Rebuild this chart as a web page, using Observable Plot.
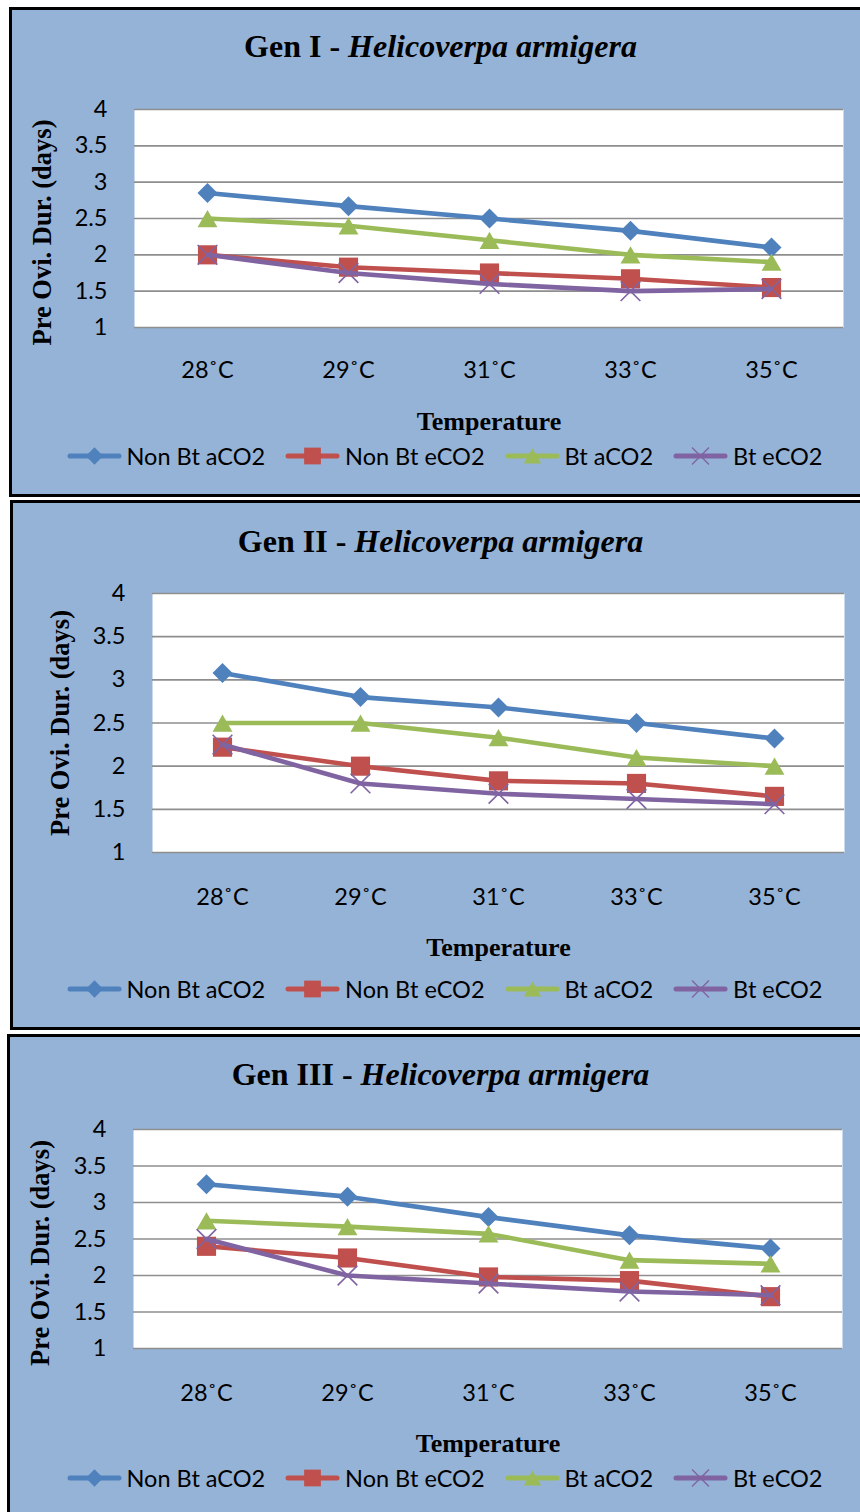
<!DOCTYPE html>
<html>
<head>
<meta charset="utf-8">
<script src="https://cdn.jsdelivr.net/npm/d3@7"></script>
<script src="https://cdn.jsdelivr.net/npm/@observablehq/plot@0.6"></script>
<style>
  html, body { margin: 0; padding: 0; background: #fff; overflow: hidden; }
  #page { position: relative; width: 860px; height: 1512px; overflow: hidden; }
  .box { position: absolute; box-sizing: border-box; border: 3px solid #000; background: #95B3D7; width: 900px; }
  .chart { position: absolute; left: 0; }
  .title { position: absolute; left: 0; width: 881px; text-align: center; white-space: nowrap;
           font-family: "Liberation Serif", "Times New Roman", serif; font-weight: bold; font-size: 32px;
           line-height: 32px; height: 32px; color: #000; }
  .title i { font-style: italic; }
  .legend { position: absolute; left: 0; width: 889px; height: 30px; display: flex; justify-content: center;
            align-items: center; font-family: Lato, sans-serif; font-size: 23.5px; color: #000; white-space: nowrap; }
  .legend .item { display: flex; align-items: center; margin: 0 10px; }
  .legend svg { display: block; margin-right: 5px; }
</style>
</head>
<body>
<div id="page"></div>
<script>
// Temperatures on the x axis and the four treatment series
const temperatures = ["28˚C", "29˚C", "31˚C", "33˚C", "35˚C"];
const seriesNames = ["Non Bt aCO2", "Non Bt eCO2", "Bt aCO2", "Bt eCO2"];
const seriesColors = ["#4F81BD", "#C0504D", "#9BBB59", "#8064A2"];
const yTicks = [1, 1.5, 2, 2.5, 3, 3.5, 4];
const genLabels = ["Gen I", "Gen II", "Gen III"];
const speciesName = "Helicoverpa armigera";
const xTitle = "Temperature";
const yTitle = "Pre Ovi. Dur. (days)";

// Pre-oviposition duration (days), generation I
const gen1NonBtA = [2.85, 2.67, 2.5, 2.33, 2.1];
const gen1NonBtE = [2.0, 1.83, 1.75, 1.67, 1.55];
const gen1BtA = [2.5, 2.4, 2.2, 2.0, 1.9];
const gen1BtE = [2.0, 1.75, 1.6, 1.5, 1.53];

// generation II
const gen2NonBtA = [3.08, 2.8, 2.68, 2.5, 2.32];
const gen2NonBtE = [2.22, 2.0, 1.83, 1.8, 1.65];
const gen2BtA = [2.5, 2.5, 2.33, 2.1, 2.0];
const gen2BtE = [2.25, 1.8, 1.68, 1.62, 1.56];

// generation III
const gen3NonBtA = [3.25, 3.08, 2.8, 2.55, 2.37];
const gen3NonBtE = [2.4, 2.24, 1.98, 1.93, 1.71];
const gen3BtA = [2.75, 2.67, 2.57, 2.21, 2.16];
const gen3BtE = [2.5, 2.0, 1.89, 1.78, 1.73];

const generations = [
  [gen1NonBtA, gen1NonBtE, gen1BtA, gen1BtE],
  [gen2NonBtA, gen2NonBtE, gen2BtA, gen2BtE],
  [gen3NonBtA, gen3NonBtE, gen3BtA, gen3BtE]
];

// Marker styling per series (diamond, square, triangle, cross)
const markers = [
  {symbol: "diamond2", r: 9, d3sym: d3.symbolDiamond2, legendSize: 190, dy: 0, stroked: false},
  {symbol: "square", r: 10.8, d3sym: d3.symbolSquare, legendSize: 280, dy: 0, stroked: false},
  {symbol: "triangle", r: 7.4, d3sym: d3.symbolTriangle, legendSize: 130, dy: 2.9, stroked: false},
  {symbol: "times", r: 9, d3sym: d3.symbolTimes, legendSize: 190, dy: 0, stroked: true}
];

// Panel layout on the page
const layout = [
  {top: 7, bottom: 497, left: 9, x0: 134, x1: 843, y0: 109, y1: 327, titleY: 46, tickDy: 42, xTitleDy: 94, yTitleX: 42, yTitleDy: 14, legendY: 456},
  {top: 500, bottom: 1030, left: 10, x0: 152, x1: 844, y0: 593, y1: 852, titleY: 541, tickDy: 44, xTitleDy: 95, yTitleX: 60, yTitleDy: 0, legendY: 989},
  {top: 1034, bottom: 1540, left: 7, x0: 133, x1: 842, y0: 1129, y1: 1348, titleY: 1074, tickDy: 44, xTitleDy: 95, yTitleX: 40, yTitleDy: 14, legendY: 1478}
];

const page = document.getElementById("page");
const W = 860;
const tickFont = 23.5;

function drawPanel(g) {
  const L = layout[g];
  const box = document.createElement("div");
  box.className = "box";
  box.style.left = L.left + "px";
  box.style.top = L.top + "px";
  box.style.height = (L.bottom - L.top) + "px";
  page.appendChild(box);

  const rows = [];
  generations[g].forEach((vals, si) =>
    vals.forEach((v, ti) => rows.push({series: seriesNames[si], temp: temperatures[ti], value: v})));

  const svgH = Math.min(L.bottom, 1512) - L.top;
  const marks = [
    Plot.frame({fill: "white", stroke: null}),
    Plot.ruleY(yTicks, {stroke: "#8e8e8e", strokeWidth: 1.6}),
    Plot.axisY({ticks: yTicks, tickSize: 0, tickPadding: 27, label: null, tickFormat: d => String(d),
                fontSize: tickFont, fontFamily: "Lato"}),
    Plot.axisX({tickSize: 0, tickPadding: L.tickDy - 8, label: null, fontSize: tickFont, fontFamily: "Lato"}),
    Plot.text([xTitle], {text: d => d, frameAnchor: "bottom", lineAnchor: "middle", dy: L.xTitleDy,
                         fontFamily: "Liberation Serif", fontWeight: "bold", fontSize: 26, fill: "#000"}),
    Plot.text([yTitle], {text: d => d, frameAnchor: "left", textAnchor: "middle", lineAnchor: "middle",
                         dx: L.yTitleX - L.x0, dy: L.yTitleDy, rotate: -90,
                         fontFamily: "Liberation Serif", fontWeight: "bold", fontSize: 26.5, fill: "#000"})
  ];
  seriesNames.forEach((name, si) => {
    const d = rows.filter(r => r.series === name);
    const m = markers[si];
    marks.push(Plot.line(d, {x: "temp", y: "value", stroke: seriesColors[si], strokeWidth: 4.6}));
    marks.push(Plot.dot(d, {
      x: "temp", y: "value", symbol: m.symbol, r: m.r, dy: m.dy,
      fill: m.stroked ? "none" : seriesColors[si],
      stroke: m.stroked ? seriesColors[si] : "none",
      strokeWidth: m.stroked ? 1.6 : 0
    }));
  });

  const chart = Plot.plot({
    width: W,
    height: svgH,
    marginLeft: L.x0,
    marginRight: W - L.x1,
    marginTop: L.y0 - L.top,
    marginBottom: L.top + svgH - L.y1,
    x: {type: "point", domain: temperatures, padding: 0.5},
    y: {domain: [1, 4]},
    style: {background: "transparent", color: "#000", fontFamily: "Lato", fontSize: tickFont + "px", overflow: "visible"},
    marks
  });
  chart.classList.add("chart");
  chart.style.top = L.top + "px";
  page.appendChild(chart);

  // Title
  const title = document.createElement("div");
  title.className = "title";
  title.style.top = (L.titleY - 16) + "px";
  title.appendChild(document.createTextNode(genLabels[g] + " - "));
  const it = document.createElement("i");
  it.textContent = speciesName;
  title.appendChild(it);
  page.appendChild(title);

  // Legend
  const legend = document.createElement("div");
  legend.className = "legend";
  legend.style.top = (L.legendY - 15) + "px";
  seriesNames.forEach((name, si) => {
    const m = markers[si];
    const item = document.createElement("div");
    item.className = "item";
    const sw = d3.create("svg").attr("width", 55).attr("height", 24);
    sw.append("line").attr("x1", 3).attr("x2", 52).attr("y1", 12).attr("y2", 12)
      .attr("stroke", seriesColors[si]).attr("stroke-width", 5).attr("stroke-linecap", "round");
    sw.append("path")
      .attr("transform", `translate(27.5,${12 + (m.dy ? 2.4 : 0)})`)
      .attr("d", d3.symbol(m.d3sym, m.legendSize)())
      .attr("fill", m.stroked ? "none" : seriesColors[si])
      .attr("stroke", m.stroked ? seriesColors[si] : "none")
      .attr("stroke-width", 1.4);
    item.appendChild(sw.node());
    const label = document.createElement("span");
    label.textContent = name;
    item.appendChild(label);
    legend.appendChild(item);
  });
  page.appendChild(legend);
}

[0, 1, 2].forEach(drawPanel);
</script>
</body>
</html>
